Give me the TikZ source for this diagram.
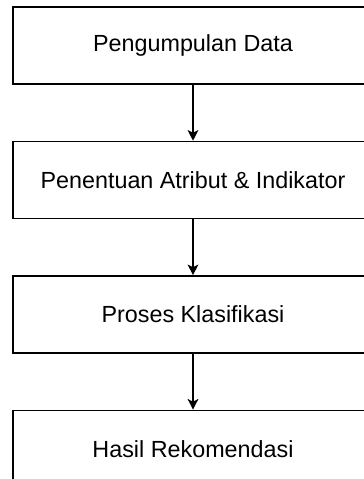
\documentclass[tikz,border=0pt]{standalone}
\usepackage{fontspec}
\setmainfont{Liberation Sans}
\usetikzlibrary{
  arrows.meta,
  positioning,
}
\tikzset{
  >={Stealth[length=8pt,width=8pt,inset=2pt]},
  stagebox/.style={draw,rectangle,line width=1.1pt,minimum width=270pt,minimum height=57.75pt,font=\fontsize{17.5}{21}\selectfont},
}

\begin{document}
\begin{tikzpicture}[x=0.75pt,y=-0.75pt,node distance=42pt and 0pt]

        \clip (0,0) rectangle (364,479);

        \node[stagebox]    (s1) at (193,45.5)       {Pengumpulan Data};
        \node[stagebox]    (s2) [below=of s1]       {Penentuan Atribut \& Indikator};
        \node[stagebox]    (s3) [below=of s2]       {Proses Klasifikasi};
        \node[stagebox]    (s4) [below=of s3]       {Hasil Rekomendasi};

        \draw[->,line width=1.1pt] (s1.south) -- (s2.north);
        \draw[->,line width=1.1pt] (s2.south) -- (s3.north);
        \draw[->,line width=1.1pt] (s3.south) -- (s4.north);

    \end{tikzpicture}
\end{document}
